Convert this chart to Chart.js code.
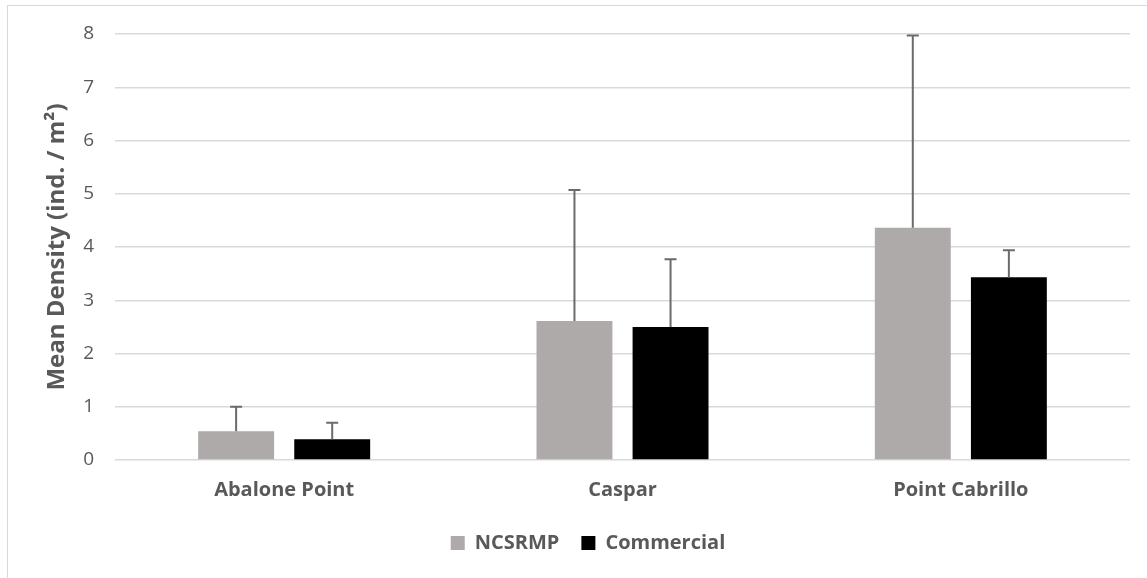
<!DOCTYPE html>
<html>
<head>
<meta charset="utf-8">
<script src="https://cdn.jsdelivr.net/npm/chart.js@4"></script>
<style>
  html, body { margin: 0; padding: 0; background: #fff; overflow: hidden; }
  #frame { position: absolute; left: 7px; top: 5px; width: 1160px; height: 600px; border: 1px solid #d9d9d9; box-sizing: border-box; }
  #wrap { position: absolute; left: 0; top: 0; width: 1147px; height: 578px; }
</style>
</head>
<body>
<div id="frame"></div>
<div id="wrap"><canvas id="chart"></canvas></div>
<script>
const sites = ['Abalone Point', 'Caspar', 'Point Cabrillo'];
const ncsrmp = [0.54, 2.61, 4.36];
const ncsrmpErr = [0.46, 2.46, 3.61];
const commercial = [0.39, 2.50, 3.43];
const commercialErr = [0.31, 1.27, 0.51];
const yTicks = [0, 1, 2, 3, 4, 5, 6, 7, 8];

const textGrey = '#595959';
const font = "'Open Sans', 'Liberation Sans', sans-serif";

// upward-only error bars like Excel's "plus" style
const errorBars = {
    id: 'errorBars',
    afterDatasetsDraw(chart) {
        const ctx = chart.ctx;
        const yScale = chart.scales.y;
        chart.data.datasets.forEach((ds, i) => {
            const meta = chart.getDatasetMeta(i);
            meta.data.forEach((bar, j) => {
                const top = yScale.getPixelForValue(ds.data[j] + ds.errPlus[j]);
                ctx.save();
                ctx.strokeStyle = '#6b6b6b';
                ctx.lineWidth = 2;
                ctx.beginPath();
                ctx.moveTo(bar.x, bar.y);
                ctx.lineTo(bar.x, top);
                ctx.moveTo(bar.x - 6, top);
                ctx.lineTo(bar.x + 6, top);
                ctx.stroke();
                ctx.restore();
            });
        });
    }
};

new Chart(document.getElementById('chart'), {
    type: 'bar',
    data: {
        labels: sites,
        datasets: [
            { label: 'NCSRMP', data: ncsrmp, errPlus: ncsrmpErr, backgroundColor: '#aeaaaa' },
            { label: 'Commercial', data: commercial, errPlus: commercialErr, backgroundColor: '#000000' }
        ]
    },
    options: {
        responsive: true,
        maintainAspectRatio: false,
        animation: false,
        categoryPercentage: 0.568,
        barPercentage: 0.79,
        // left padding pushes the legend centre right, like Excel centring on the whole frame
        layout: { padding: { top: 34, right: 17, left: 46, bottom: 15 } },
        plugins: {
            tooltip: { enabled: false },
            legend: {
                position: 'bottom',
                labels: {
                    color: textGrey,
                    font: { family: font, size: 20, weight: 'bold' },
                    boxWidth: 14,
                    boxHeight: 14,
                    padding: 22
                }
            }
        },
        scales: {
            x: {
                grid: { display: false, drawTicks: false },
                border: { display: false },
                ticks: {
                    color: textGrey,
                    font: { family: font, size: 20, weight: 'bold' },
                    padding: 18
                },
                afterFit(scale) { scale.height = 51; }
            },
            y: {
                min: 0,
                max: 8,
                afterBuildTicks(scale) { scale.ticks = yTicks.map(v => ({ value: v })); },
                grid: { color: '#d9d9d9', lineWidth: 1.5, drawTicks: false },
                border: { display: false },
                ticks: {
                    color: textGrey,
                    font: { family: font, size: 19 },
                    padding: 21
                },
                title: {
                    display: true,
                    text: 'Mean Density (ind. / m²)',
                    color: textGrey,
                    font: { family: font, size: 24, weight: 'bold' },
                    padding: { top: -3, bottom: 0 }
                },
                afterFit(scale) { scale.width = 69; }
            }
        }
    },
    plugins: [errorBars]
});
</script>
</body>
</html>
